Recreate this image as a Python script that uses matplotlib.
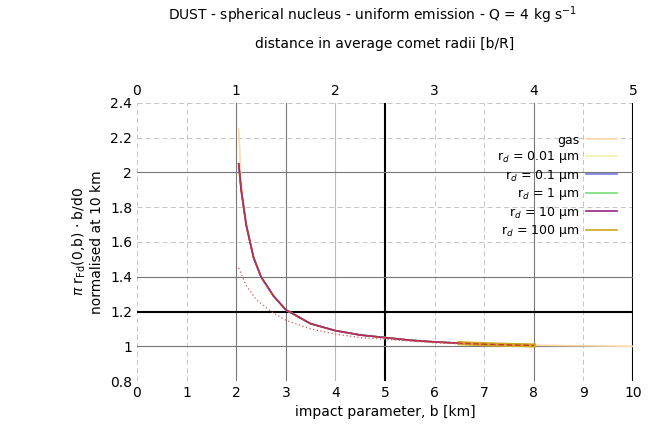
import numpy as np
import matplotlib.pyplot as plt

# impact parameter b [km] and normalised column values
b_gas = [2.05, 2.1, 2.2, 2.35, 2.5, 2.75, 3.0, 3.5, 4.0, 4.5, 5.0, 5.5, 6.0, 6.5, 7.0, 8.0, 9.0, 10.0]
v_gas = [2.25, 1.95, 1.72, 1.52, 1.40, 1.29, 1.21, 1.13, 1.09, 1.065, 1.05, 1.035, 1.025, 1.018, 1.012, 1.006, 1.003, 1.0]
b_dust = [2.05, 2.1, 2.2, 2.35, 2.5, 2.75, 3.0, 3.5, 4.0, 4.5, 5.0, 5.5, 6.0, 6.5, 7.0, 7.5, 8.0]
v_d001 = [2.05, 1.90, 1.70, 1.51, 1.40, 1.29, 1.21, 1.13, 1.09, 1.065, 1.05, 1.035, 1.025, 1.018, 1.012, 1.008, 1.005]
v_d01 = v_d001
v_d1 = v_d001
v_d10 = v_d001
v_d100 = v_d001
b_low = [2.05, 2.2, 2.4, 2.7, 3.0, 3.5, 4.0, 4.5, 5.0, 6.0, 7.0]
v_low = [1.45, 1.35, 1.27, 1.20, 1.15, 1.10, 1.07, 1.05, 1.04, 1.02, 1.01]

plt.rcParams['font.family'] = ['DejaVu Sans']
fig = plt.figure(figsize=(6.65, 4.38), dpi=100)
ax = fig.add_axes([0.206, 0.13, 0.746, 0.635])

ax.set_xlim(0, 10)
ax.set_ylim(0.8, 2.4)
ax.set_xticks(range(0, 11))
ax.set_yticks([0.8, 1, 1.2, 1.4, 1.6, 1.8, 2, 2.2, 2.4])
ax.set_yticklabels(['0.8', '1', '1.2', '1.4', '1.6', '1.8', '2', '2.2', '2.4'])
ax.grid(True, color='#bbbbbb', linestyle=(0, (6, 4)), linewidth=0.6)
for s in ax.spines.values():
    s.set_visible(False)
ax.tick_params(length=0, labelsize=10)

for x in [2, 3, 8]:
    ax.axvline(x, color='#777777', lw=0.8)
ax.axvline(4, color='#bbbbbb', lw=0.8)
ax.axvline(5, color='black', lw=1.5)
ax.axvline(10, color='black', lw=1.5)
for y in [1, 1.4, 2]:
    ax.axhline(y, color='#777777', lw=0.8)
ax.axhline(1.2, color='black', lw=1.5)

ax.plot(b_gas, v_gas, color='#ffd9a8', lw=1.2, label='gas')
ax.plot(b_dust, v_d001, color='#f0f0b0', lw=1.2, label=r'r$_d$ = 0.01 μm')
ax.plot(b_dust, v_d01, color='#7777dd', lw=1.2, label=r'r$_d$ = 0.1 μm')
ax.plot(b_dust, v_d1, color='#77dd77', lw=1.2, label=r'r$_d$ = 1 μm')
ax.plot(b_dust, v_d10, color='#992288', lw=1.2, label=r'r$_d$ = 10 μm')
ax.plot(b_dust[-4:], v_d100[-4:], color='#ccaa22', lw=3)
ax.plot([], [], color='#ccaa22', lw=1.2, label=r'r$_d$ = 100 μm')
ax.plot(b_dust, v_d001, color='#cc3333', lw=1.0, ls=(0, (4, 2)))
ax.plot(b_low, v_low, color='#dd5555', lw=0.9, ls=(0, (1, 2)))

leg = ax.legend(loc='upper right', bbox_to_anchor=(0.99, 0.93), frameon=False,
                fontsize=9, markerfirst=False, handlelength=2.5, labelspacing=0.2,
                handletextpad=0.5)
for t in leg.get_texts():
    t.set_ha('right')

ax.set_xlabel('impact parameter, b [km]', fontsize=10)
ax.set_ylabel(r'$\pi$ r$_{\rm Fd}$(0,b) $\cdot$ b/d0' + '\nnormalised at 10 km', fontsize=10)

top = ax.twiny()
top.set_xlim(0, 5)
top.set_xticks(range(0, 6))
top.tick_params(length=0, labelsize=10)
for s in top.spines.values():
    s.set_visible(False)
top.set_xlabel('distance in average comet radii [b/R]', fontsize=10, labelpad=26)

fig.suptitle(r'DUST - spherical nucleus - uniform emission - Q = 4 kg s$^{-1}$', fontsize=10,
             x=0.56, y=0.99)
fig.savefig('out.png', dpi=100)
